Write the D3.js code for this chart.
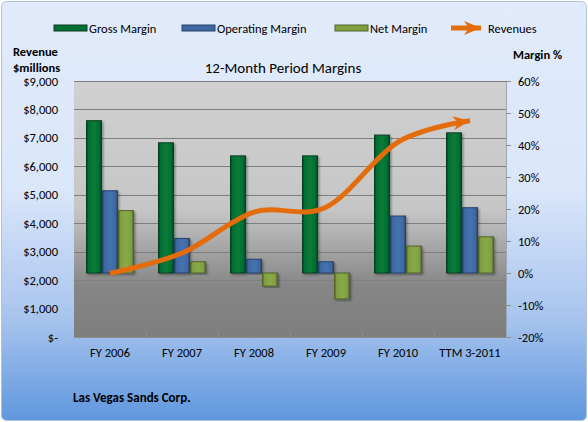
<!DOCTYPE html>
<html>
<head>
<meta charset="utf-8">
<script src="https://cdn.jsdelivr.net/npm/d3@7"></script>
<style>
  html, body { margin: 0; padding: 0; background: #fff; }
  svg { display: block; font-family: Carlito, Lato, "Open Sans", sans-serif; }
</style>
</head>
<body>
<div id="chart"></div>
<script>
const categories = ['FY 2006', 'FY 2007', 'FY 2008', 'FY 2009', 'FY 2010', 'TTM 3-2011'];
const grossMargin = [47.6, 40.7, 36.6, 36.6, 43.1, 43.8];
const operatingMargin = [25.7, 10.8, 4.3, 3.5, 17.8, 20.4];
const netMargin = [19.5, 3.5, -4.1, -8.1, 8.4, 11.3];
const revenues = [2237, 2951, 4390, 4563, 6853, 7600];
const revenueTicks = [0, 1000, 2000, 3000, 4000, 5000, 6000, 7000, 8000, 9000];
const marginTicks = [-20, -10, 0, 10, 20, 30, 40, 50, 60];

const seriesNames = ['Gross Margin', 'Operating Margin', 'Net Margin'];
const seriesValues = [grossMargin, operatingMargin, netMargin];
const seriesColors = [
    {base: '#006f31', light: '#0a7a3a', dark: '#0b3f20'},
    {base: '#3d68a3', light: '#4573b0', dark: '#26426b'},
    {base: '#809f41', light: '#8aab48', dark: '#4f6428'}
];
const lineColor = '#e46c0a';

const W = 588, H = 422;
const plot = {left: 74, right: 506, top: 81, bottom: 337};

const svg = d3.select('#chart').append('svg')
    .attr('width', W)
    .attr('height', H);

const defs = svg.append('defs');

// outer background
const bg = defs.append('linearGradient').attr('id', 'bg').attr('x1', 0).attr('y1', 0).attr('x2', 0).attr('y2', 1);
bg.append('stop').attr('offset', '0%').attr('stop-color', '#e1ebfb');
bg.append('stop').attr('offset', '45%').attr('stop-color', '#dae6fa');
bg.append('stop').attr('offset', '75%').attr('stop-color', '#a9c5ee');
bg.append('stop').attr('offset', '100%').attr('stop-color', '#5f97de');

// plot area background
const pg = defs.append('linearGradient').attr('id', 'pg').attr('x1', 0).attr('y1', 0).attr('x2', 0).attr('y2', 1);
pg.append('stop').attr('offset', '0%').attr('stop-color', '#d0d0d0');
pg.append('stop').attr('offset', '50%').attr('stop-color', '#c6c6c6');
pg.append('stop').attr('offset', '80%').attr('stop-color', '#868686');
pg.append('stop').attr('offset', '100%').attr('stop-color', '#7e7e7e');

// bevel gradients for bars
seriesColors.forEach((c, i) => {
    const g = defs.append('linearGradient').attr('id', 'bar' + i).attr('x1', 0).attr('y1', 0).attr('x2', 1).attr('y2', 0);
    g.append('stop').attr('offset', '0%').attr('stop-color', c.dark);
    g.append('stop').attr('offset', '14%').attr('stop-color', c.base);
    g.append('stop').attr('offset', '50%').attr('stop-color', c.light);
    g.append('stop').attr('offset', '86%').attr('stop-color', c.base);
    g.append('stop').attr('offset', '100%').attr('stop-color', c.dark);
});

const shadow = defs.append('filter').attr('id', 'shadow')
    .attr('x', '-30%').attr('y', '-10%').attr('width', '160%').attr('height', '120%');
shadow.append('feDropShadow')
    .attr('dx', 1.5).attr('dy', 1.5).attr('stdDeviation', 1)
    .attr('flood-color', '#000').attr('flood-opacity', 0.35);

defs.append('marker')
    .attr('id', 'arrow')
    .attr('markerUnits', 'userSpaceOnUse')
    .attr('markerWidth', 20).attr('markerHeight', 20)
    .attr('viewBox', '-18 -8 20 16')
    .attr('refX', 0).attr('refY', 0)
    .attr('orient', 'auto')
    .append('path')
    .attr('d', 'M0,0 L-17,-7 L-12,0 L-17,7 Z')
    .attr('fill', lineColor);

svg.append('rect')
    .attr('x', 1.5).attr('y', 1.5)
    .attr('width', W - 3).attr('height', H - 3)
    .attr('rx', 5)
    .attr('fill', 'url(#bg)')
    .attr('stroke', '#b3c3d6');

svg.append('rect')
    .attr('x', plot.left).attr('y', plot.top)
    .attr('width', plot.right - plot.left).attr('height', plot.bottom - plot.top)
    .attr('fill', 'url(#pg)');

// scales
const x = d3.scaleBand()
    .domain(categories)
    .range([plot.left, plot.right]);

const x1 = d3.scaleBand()
    .domain(seriesNames)
    .range([x.bandwidth() / 6, x.bandwidth() * 5 / 6]);

const yRev = d3.scaleLinear()
    .domain([0, 9000])
    .range([plot.bottom, plot.top]);

const yMar = d3.scaleLinear()
    .domain([-20, 60])
    .range([plot.bottom, plot.top]);

// gridlines
svg.append('g')
    .selectAll('line')
    .data(revenueTicks.filter(d => d > 0))
    .enter()
    .append('line')
    .attr('x1', plot.left).attr('x2', plot.right)
    .attr('y1', d => Math.round(yRev(d)) + 0.5)
    .attr('y2', d => Math.round(yRev(d)) + 0.5)
    .attr('stroke', '#7f7f7f')
    .attr('stroke-width', 1);

// category tick marks along the bottom
svg.append('g')
    .selectAll('line')
    .data(categories.slice(1))
    .enter()
    .append('line')
    .attr('x1', d => Math.round(x(d)) + 0.5).attr('x2', d => Math.round(x(d)) + 0.5)
    .attr('y1', plot.bottom - 5).attr('y2', plot.bottom)
    .attr('stroke', '#8c8c8c');

// left axis
const leftAxis = svg.append('g')
    .attr('transform', `translate(${plot.left},0)`)
    .call(d3.axisLeft(yRev)
        .tickValues(revenueTicks)
        .tickSize(0)
        .tickPadding(16)
        .tickFormat(d => d === 0 ? '$-' : '$' + d3.format(',')(d)));
leftAxis.select('.domain').remove();
leftAxis.selectAll('text')
    .style('font-size', '12.5px')
    .style('font-family', 'Carlito, Lato, sans-serif')
    .attr('fill', '#000');

// right axis
const rightAxis = svg.append('g')
    .attr('transform', `translate(${plot.right},0)`)
    .call(d3.axisRight(yMar)
        .tickValues(marginTicks)
        .tickSize(5)
        .tickPadding(7)
        .tickFormat(d => d + '%'));
rightAxis.select('.domain').attr('stroke', '#9aa6b4');
rightAxis.selectAll('line').attr('stroke', '#8c8c8c');
rightAxis.selectAll('text')
    .style('font-size', '12.5px')
    .style('font-family', 'Carlito, Lato, sans-serif')
    .attr('fill', '#000');

// bottom axis labels
const bottomAxis = svg.append('g')
    .attr('transform', `translate(0,${plot.bottom})`)
    .call(d3.axisBottom(x).tickSize(0).tickPadding(11));
bottomAxis.select('.domain').attr('stroke', '#8c8c8c');
bottomAxis.selectAll('text')
    .style('font-size', '12.5px')
    .style('font-family', 'Carlito, Lato, sans-serif')
    .attr('fill', '#000');

// bars
const barData = [];
categories.forEach((cat, ci) => {
    seriesNames.forEach((name, si) => {
        barData.push({cat: cat, series: name, si: si, value: seriesValues[si][ci]});
    });
});

svg.append('g')
    .selectAll('rect')
    .data(barData)
    .enter()
    .append('rect')
    .attr('x', d => x(d.cat) + x1(d.series) + 0.5)
    .attr('y', d => Math.min(yMar(d.value), yMar(0)))
    .attr('width', x1.bandwidth() - 1)
    .attr('height', d => Math.abs(yMar(d.value) - yMar(0)))
    .attr('fill', d => `url(#bar${d.si})`)
    .attr('stroke', d => seriesColors[d.si].dark)
    .attr('stroke-width', 1)
    .attr('filter', 'url(#shadow)');

// revenue line
const line = d3.line()
    .x((d, i) => x(categories[i]) + x.bandwidth() / 2)
    .y(d => yRev(d))
    .curve(d3.curveCardinal.tension(0));

svg.append('path')
    .datum(revenues)
    .attr('d', line)
    .attr('fill', 'none')
    .attr('stroke', lineColor)
    .attr('stroke-width', 5)
    .attr('marker-end', 'url(#arrow)');

// titles
svg.append('text')
    .attr('x', 283).attr('y', 73)
    .attr('text-anchor', 'middle')
    .style('font-size', '15px')
    .text('12-Month Period Margins');

svg.append('text')
    .attr('x', 13).attr('y', 56)
    .style('font-size', '12.5px')
    .style('font-weight', 'bold')
    .text('Revenue');

svg.append('text')
    .attr('x', 13).attr('y', 72)
    .style('font-size', '12.5px')
    .style('font-weight', 'bold')
    .text('$millions');

svg.append('text')
    .attr('x', 513).attr('y', 59)
    .style('font-size', '12.5px')
    .style('font-weight', 'bold')
    .text('Margin %');

svg.append('text')
    .attr('x', 73).attr('y', 402)
    .style('font-size', '13px')
    .style('font-weight', 'bold')
    .text('Las Vegas Sands Corp.');

// legend
const legendItems = [
    {label: 'Gross Margin', x: 54, type: 'bar', si: 0},
    {label: 'Operating Margin', x: 182, type: 'bar', si: 1},
    {label: 'Net Margin', x: 335, type: 'bar', si: 2},
    {label: 'Revenues', x: 451, type: 'line'}
];

const legend = svg.append('g');
legendItems.forEach(item => {
    const g = legend.append('g').attr('transform', `translate(${item.x},28)`);
    if (item.type === 'bar') {
        g.append('rect')
            .attr('x', 0).attr('y', -3)
            .attr('width', 33).attr('height', 6)
            .attr('fill', seriesColors[item.si].base)
            .attr('stroke', seriesColors[item.si].dark)
            .attr('stroke-width', 1);
    } else {
        g.append('line')
            .attr('x1', 0).attr('x2', 30)
            .attr('y1', 0).attr('y2', 0)
            .attr('stroke', lineColor)
            .attr('stroke-width', 5)
            .attr('marker-end', 'url(#arrow)');
    }
    g.append('text')
        .attr('x', item.type === 'bar' ? 35 : 37)
        .attr('y', 4.5)
        .style('font-size', '12.5px')
        .text(item.label);
});
</script>
</body>
</html>
